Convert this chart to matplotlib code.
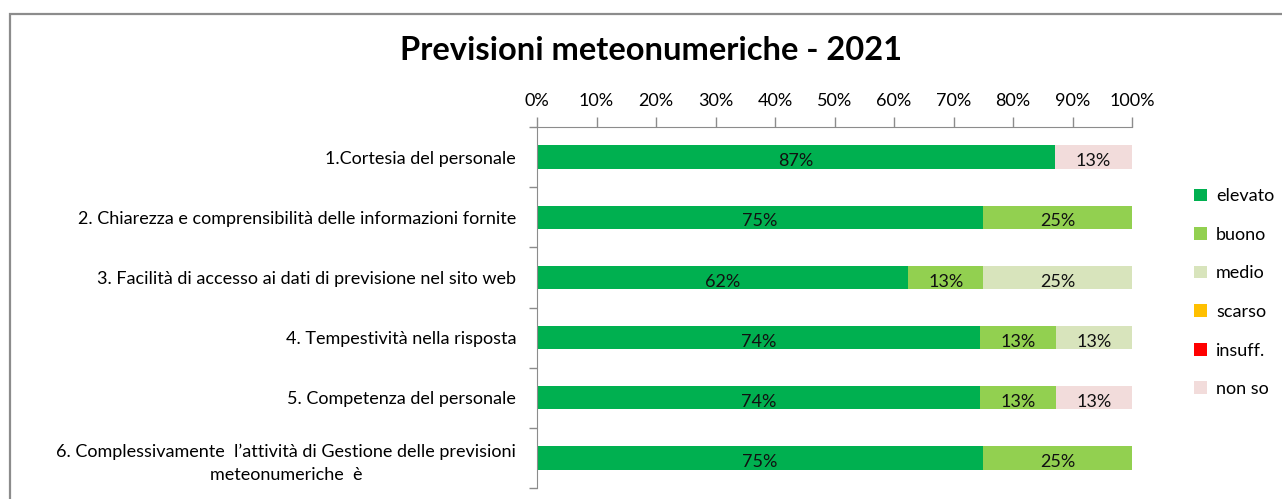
import matplotlib.pyplot as plt
from matplotlib.patches import Patch, Rectangle

plt.rcParams["font.family"] = ["Lato", "DejaVu Sans"]

categories = [
    "1.Cortesia del personale",
    "2. Chiarezza e comprensibilità delle informazioni fornite",
    "3. Facilità di accesso ai dati di previsione nel sito web",
    "4. Tempestività nella risposta",
    "5. Competenza del personale",
    "6. Complessivamente  l’attività di Gestione delle previsioni\nmeteonumeriche  è",
]
series_names = ["elevato", "buono", "medio", "scarso", "insuff.", "non so"]
elevato = [87.0, 75.0, 62.4, 74.4, 74.4, 75.0]
buono = [0.0, 25.0, 12.6, 12.8, 12.8, 25.0]
medio = [0.0, 0.0, 25.0, 12.8, 0.0, 0.0]
scarso = [0.0, 0.0, 0.0, 0.0, 0.0, 0.0]
insuff = [0.0, 0.0, 0.0, 0.0, 0.0, 0.0]
non_so = [13.0, 0.0, 0.0, 0.0, 12.8, 0.0]
colors = ["#00B050", "#92D050", "#D8E4BC", "#FFC000", "#FF0000", "#F2DCDB"]

W, H = 1282, 499
fig = plt.figure(figsize=(W / 100, H / 100), dpi=100)
fig.patches.append(Rectangle((9.5 / W, -0.2), 1.2, 1.2 - 13.5 / H, transform=fig.transFigure,
                             fill=False, edgecolor="#8c8c8c", linewidth=1.6))

ax = fig.add_axes([537 / W, 1 - 488 / H, (1132 - 537) / W, (488 - 127) / H])

y = list(range(len(categories)))
left = [0.0] * len(categories)
for name, vals, col in zip(series_names, [elevato, buono, medio, scarso, insuff, non_so], colors):
    ax.barh(y, vals, left=left, height=0.39, color=col, label=name)
    for i, v in enumerate(vals):
        if v > 0:
            ax.text(left[i] + v / 2, i + 0.07, f"{v:.0f}%", ha="center", va="center",
                    fontsize=13, color="#111111")
    left = [l + v for l, v in zip(left, vals)]

ax.set_xlim(0, 100)
ax.set_ylim(len(categories) - 0.5, -0.5)
ax.xaxis.tick_top()
ax.set_xticks(range(0, 101, 10))
ax.set_xticklabels([f"{t}%" for t in range(0, 101, 10)], fontsize=13)
ax.tick_params(axis="x", direction="out", length=7, width=1, color="#8c8c8c", pad=6)

ax.set_yticks(y)
ax.set_yticklabels(categories, fontsize=13, multialignment="center", linespacing=1.6)
ax.set_yticks([i + 0.5 for i in range(-1, len(categories))], minor=True)
ax.tick_params(axis="y", which="major", length=0, pad=15)
ax.tick_params(axis="y", which="minor", length=6, width=1, color="#8c8c8c")

for s in ["right", "bottom"]:
    ax.spines[s].set_visible(False)
for s in ["top", "left"]:
    ax.spines[s].set_color("#8c8c8c")

fig.text(651 / W, 1 - 50 / H, "Previsioni meteonumeriche - 2021", ha="center", va="center",
         fontsize=23.5, fontweight="bold")

handles = [Patch(facecolor=c, edgecolor="none") for c in colors]
fig.legend(handles, series_names, loc="upper left", bbox_to_anchor=(1178 / W, 1 - 172 / H),
           frameon=False, fontsize=13, handlelength=0.7, handleheight=0.7,
           handletextpad=0.5, labelspacing=1.25)

fig.savefig("out.png", dpi=100)
